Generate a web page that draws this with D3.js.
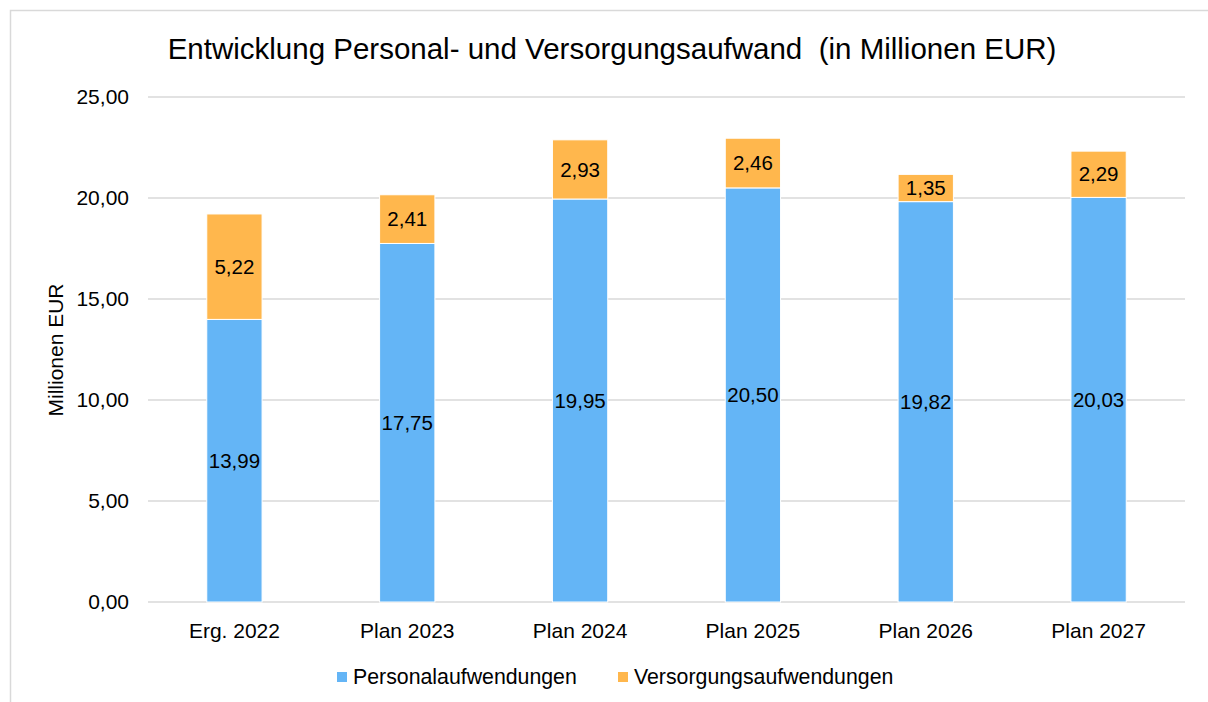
<!DOCTYPE html>
<html>
<head>
<meta charset="utf-8">
<script src="https://cdn.jsdelivr.net/npm/d3@7"></script>
<style>
  body { margin: 0; background: #fff; }
  svg { font-family: "Liberation Sans", Arial, sans-serif; }
</style>
</head>
<body>
<svg id="chart" width="1208" height="702"></svg>
<script>
const categories = ["Erg. 2022", "Plan 2023", "Plan 2024", "Plan 2025", "Plan 2026", "Plan 2027"]
const personal = [13.99, 17.75, 19.95, 20.50, 19.82, 20.03]
const versorgung = [5.22, 2.41, 2.93, 2.46, 1.35, 2.29]
const seriesNames = ["Personalaufwendungen", "Versorgungsaufwendungen"]
const yTicks = [0, 5, 10, 15, 20, 25]

const colors = ["#64B5F6", "#FFB74D"]
const fmt = v => d3.format(".2f")(v).replace(".", ",")

const svg = d3.select("#chart")
const margin = {left: 148, right: 23, top: 97, bottom: 100}
const width = 1208, height = 702
const fs = 21

// outer frame
svg.append("rect")
    .attr("x", 10.5).attr("y", 10.5)
    .attr("width", 1250).attr("height", 750)
    .attr("fill", "none").attr("stroke", "#d9d9d9").attr("stroke-width", 1.5)

const x = d3.scaleBand()
    .domain(categories)
    .range([margin.left, width - margin.right])
    .paddingInner(0.68).paddingOuter(0.34)
const y = d3.scaleLinear().domain([0, 25]).range([height - margin.bottom, margin.top])

// gridlines
svg.append("g")
  .selectAll("line")
  .data(yTicks)
  .join("line")
    .attr("x1", margin.left).attr("x2", width - margin.right)
    .attr("y1", d => y(d)).attr("y2", d => y(d))
    .attr("stroke", "#d9d9d9").attr("stroke-width", 1.5)

// y tick labels
svg.append("g")
  .selectAll("text")
  .data(yTicks)
  .join("text")
    .attr("x", 129).attr("y", d => y(d))
    .attr("dy", "0.35em")
    .attr("text-anchor", "end")
    .attr("font-size", fs)
    .text(d => fmt(d))

// stacked data
const rows = categories.map((c, i) => ({cat: c, p: personal[i], v: versorgung[i]}))
const stack = d3.stack().keys(["p", "v"])(rows)

const layer = svg.append("g")
  .selectAll("g")
  .data(stack)
  .join("g")
    .attr("fill", (d, i) => colors[i])

layer.selectAll("rect")
  .data(d => d)
  .join("rect")
    .attr("x", d => x(d.data.cat))
    .attr("width", x.bandwidth())
    .attr("y", d => y(d[1]))
    .attr("height", d => y(d[0]) - y(d[1]))
    .attr("stroke", "#fff").attr("stroke-width", 1)

// value labels
layer.selectAll("text")
  .data(d => d)
  .join("text")
    .attr("x", d => x(d.data.cat) + x.bandwidth() / 2)
    .attr("y", d => y((d[0] + d[1]) / 2))
    .attr("dy", "0.35em")
    .attr("text-anchor", "middle")
    .attr("font-size", 20.5)
    .attr("fill", "#000")
    .text(d => fmt(d[1] - d[0]))

// x axis labels
svg.append("g")
  .selectAll("text")
  .data(categories)
  .join("text")
    .attr("x", d => x(d) + x.bandwidth() / 2)
    .attr("y", height - margin.bottom + 36)
    .attr("text-anchor", "middle")
    .attr("font-size", fs)
    .text(d => d)

// title
svg.append("text")
    .attr("x", 612).attr("y", 59)
    .attr("text-anchor", "middle")
    .attr("font-size", 29.5)
    .attr("xml:space", "preserve")
    .text("Entwicklung Personal- und Versorgungsaufwand  (in Millionen EUR)")

// y label
svg.append("text")
    .attr("transform", "translate(63,350) rotate(-90)")
    .attr("text-anchor", "middle")
    .attr("font-size", fs)
    .text("Millionen EUR")

// legend
const legendX = [337, 618]
const legend = svg.append("g")
  .selectAll("g")
  .data(seriesNames)
  .join("g")
    .attr("transform", (d, i) => `translate(${legendX[i]},677)`)
legend.append("rect")
    .attr("x", 0).attr("y", -5).attr("width", 10).attr("height", 10)
    .attr("fill", (d, i) => colors[i])
legend.append("text")
    .attr("x", 16).attr("dy", "0.35em")
    .attr("font-size", 21.3)
    .text(d => d)
</script>
</body>
</html>
